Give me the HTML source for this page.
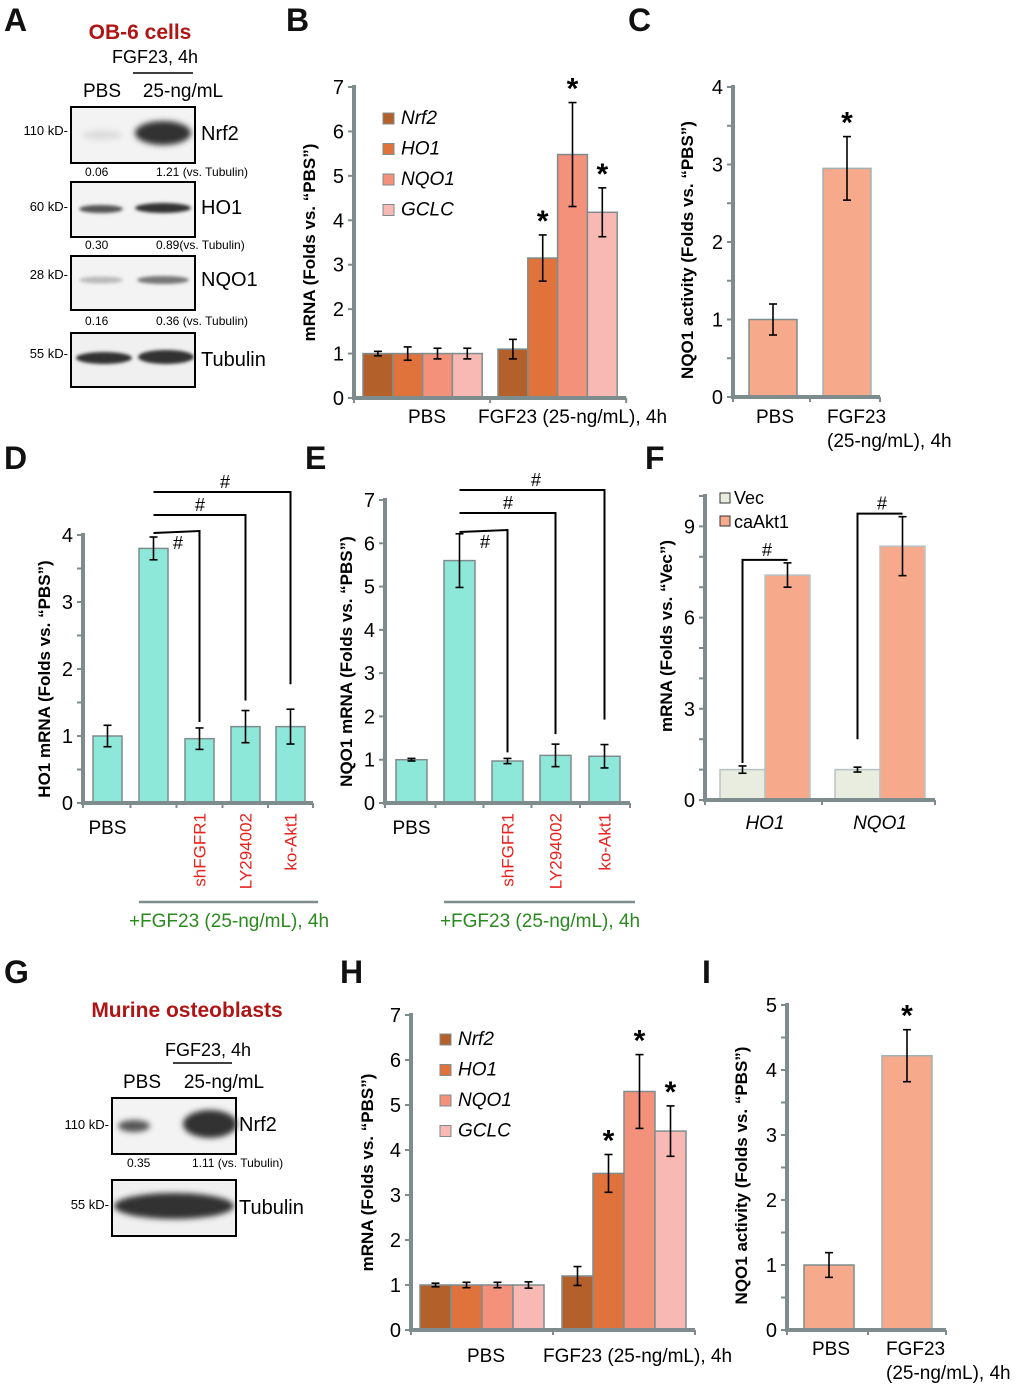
<!DOCTYPE html>
<html><head><meta charset="utf-8"><style>
html,body{margin:0;padding:0;background:#fff}
svg{display:block;font-family:"Liberation Sans",Arial,sans-serif}
</style></head><body>
<svg id="fig" width="1020" height="1390" viewBox="0 0 1020 1390" xmlns="http://www.w3.org/2000/svg">
<defs>
<filter id="blur" x="-20%" y="-50%" width="140%" height="200%"><feGaussianBlur stdDeviation="3"/></filter>
<filter id="blur2" x="-20%" y="-50%" width="140%" height="200%"><feGaussianBlur stdDeviation="1.5"/></filter>
</defs>
<g font-weight="bold" font-size="32" fill="#111">
<text x="4" y="31">A</text>
<text x="286" y="31">B</text>
<text x="628" y="31">C</text>
<text x="4" y="469">D</text>
<text x="305" y="469">E</text>
<text x="645" y="469">F</text>
<text x="4" y="983">G</text>
<text x="340" y="983">H</text>
<text x="702" y="983">I</text>
</g>

<!-- Panel A -->
<g>
<text x="140" y="39" text-anchor="middle" font-weight="bold" font-size="21" fill="#b01515">OB-6 cells</text>
<text x="155" y="63" text-anchor="middle" font-size="18">FGF23, 4h</text>
<line x1="133" y1="73" x2="193" y2="73" stroke="#000" stroke-width="1.5"/>
<text x="102" y="97" text-anchor="middle" font-size="19">PBS</text>
<text x="183" y="97" text-anchor="middle" font-size="19">25-ng/mL</text>
<rect x="71" y="107" width="124" height="56" fill="#f3f3f3" stroke="#000" stroke-width="2"/>
<ellipse cx="102" cy="135" rx="20" ry="5" fill="#ddd" filter="url(#blur)"/>
<ellipse cx="163" cy="133" rx="28" ry="12" fill="#333" filter="url(#blur)"/>
<rect x="71" y="182" width="124" height="55" fill="#f3f3f3" stroke="#000" stroke-width="2"/>
<ellipse cx="101" cy="209" rx="22" ry="4" fill="#555" filter="url(#blur2)"/>
<ellipse cx="163" cy="208" rx="28" ry="5" fill="#333" filter="url(#blur2)"/>
<rect x="71" y="256" width="124" height="54" fill="#f3f3f3" stroke="#000" stroke-width="2"/>
<ellipse cx="101" cy="280" rx="22" ry="3.5" fill="#bbb" filter="url(#blur2)"/>
<ellipse cx="163" cy="280" rx="26" ry="4" fill="#777" filter="url(#blur2)"/>
<rect x="71" y="333" width="124" height="54" fill="#f0f0f0" stroke="#000" stroke-width="2"/>
<ellipse cx="104" cy="358" rx="28" ry="6" fill="#333" filter="url(#blur2)"/>
<ellipse cx="166" cy="357" rx="28" ry="7" fill="#333" filter="url(#blur2)"/>
<g font-size="13" text-anchor="end">
<text x="68" y="135">110 kD-</text><text x="68" y="211">60 kD-</text><text x="68" y="279">28 kD-</text><text x="68" y="358">55 kD-</text>
</g>
<g font-size="20">
<text x="201" y="140">Nrf2</text><text x="201" y="214">HO1</text><text x="201" y="286">NQO1</text><text x="201" y="366">Tubulin</text>
</g>
<g font-size="12">
<text x="85" y="176">0.06</text><text x="156" y="176">1.21 (vs. Tubulin)</text>
<text x="85" y="249">0.30</text><text x="156" y="249">0.89(vs. Tubulin)</text>
<text x="85" y="325">0.16</text><text x="156" y="325">0.36 (vs. Tubulin)</text>
</g>
</g>

<!-- Panel G -->
<g>
<text x="187" y="1017" text-anchor="middle" font-weight="bold" font-size="21" fill="#b01515">Murine osteoblasts</text>
<text x="208" y="1056" text-anchor="middle" font-size="18">FGF23, 4h</text>
<line x1="173" y1="1063" x2="232" y2="1063" stroke="#000" stroke-width="1.5"/>
<text x="142" y="1088" text-anchor="middle" font-size="19">PBS</text>
<text x="224" y="1088" text-anchor="middle" font-size="19">25-ng/mL</text>
<rect x="112" y="1098" width="124" height="56" fill="#f3f3f3" stroke="#000" stroke-width="2"/>
<ellipse cx="134" cy="1126" rx="16" ry="6" fill="#555" filter="url(#blur)"/>
<ellipse cx="210" cy="1124" rx="27" ry="14" fill="#333" filter="url(#blur)"/>
<rect x="112" y="1180" width="124" height="56" fill="#f0f0f0" stroke="#000" stroke-width="2"/>
<ellipse cx="174" cy="1206" rx="60" ry="13" fill="#333" filter="url(#blur)"/>
<g font-size="13" text-anchor="end"><text x="109" y="1129">110 kD-</text><text x="109" y="1209">55 kD-</text></g>
<g font-size="20"><text x="239" y="1131">Nrf2</text><text x="239" y="1214">Tubulin</text></g>
<g font-size="12"><text x="127" y="1167">0.35</text><text x="192" y="1167">1.11 (vs. Tubulin)</text></g>
</g>
<g id="charts"></g>
</svg>
<script>
// ---- Panel B data ----
const bGroups = ["PBS", "FGF23 (25-ng/mL), 4h"];
const bSeries = ["Nrf2", "HO1", "NQO1", "GCLC"];
const bNrf2 = [1.0, 1.1];
const bHO1 = [1.0, 3.15];
const bNQO1 = [1.0, 5.48];
const bGCLC = [1.0, 4.18];
const bErrNrf2 = [0.05, 0.22];
const bErrHO1 = [0.15, 0.52];
const bErrNQO1 = [0.12, 1.17];
const bErrGCLC = [0.12, 0.55];
const bTicks = [0, 1, 2, 3, 4, 5, 6, 7];
// ---- Panel H data ----
const hNrf2 = [1.0, 1.2];
const hHO1 = [1.0, 3.48];
const hNQO1 = [1.0, 5.3];
const hGCLC = [1.0, 4.42];
const hErrNrf2 = [0.04, 0.21];
const hErrHO1 = [0.06, 0.42];
const hErrNQO1 = [0.06, 0.82];
const hErrGCLC = [0.07, 0.56];
const hTicks = [0, 1, 2, 3, 4, 5, 6, 7];
// ---- Panel C data ----
const cCats = ["PBS", "FGF23"];
const cVals = [1.0, 2.95];
const cErr = [0.2, 0.41];
const cTicks = [0, 1, 2, 3, 4];
// ---- Panel I data ----
const iVals = [1.0, 4.22];
const iErr = [0.19, 0.4];
const iTicks = [0, 1, 2, 3, 4, 5];
// ---- Panel D data ----
const dCats = ["PBS", "FGF23", "shFGFR1", "LY294002", "ko-Akt1"];
const dVals = [1.0, 3.8, 0.96, 1.14, 1.14];
const dErr = [0.16, 0.17, 0.16, 0.24, 0.26];
const dTicks = [0, 1, 2, 3, 4];
// ---- Panel E data ----
const eVals = [1.0, 5.6, 0.97, 1.1, 1.08];
const eErr = [0.03, 0.62, 0.06, 0.26, 0.27];
const eTicks = [0, 1, 2, 3, 4, 5, 6, 7];
// ---- Panel F data ----
const fCats = ["HO1", "NQO1"];
const fVec = [1.0, 1.0];
const fCaAkt1 = [7.4, 8.35];
const fErrVec = [0.12, 0.08];
const fErrCa = [0.4, 0.97];
const fTicks = [0, 3, 6, 9];

const NS = "http://www.w3.org/2000/svg";
const root = document.getElementById("charts");
const AX = "#7f8c8d";
function mk(tag, attrs, parent, txt) {
  const e = document.createElementNS(NS, tag);
  for (const k in attrs) e.setAttribute(k, attrs[k]);
  if (txt !== undefined) e.textContent = txt;
  (parent || root).appendChild(e);
  return e;
}
function axisY(g, x, y0, yTop, max, ticks, minor, fs) {
  const sy = v => y0 - v * (y0 - yTop) / max;
  mk("line", {x1: x, y1: y0 + 2, x2: x, y2: sy(max) - 2, stroke: AX, "stroke-width": 4}, g);
  for (let v = 0; v <= max + 1e-9; v += minor) {
    mk("line", {x1: x - 6, y1: sy(v), x2: x, y2: sy(v), stroke: AX, "stroke-width": 2}, g);
  }
  ticks.forEach(t => mk("text", {x: x - 10, y: sy(t) + 7, "text-anchor": "end", "font-size": fs || 20}, g, String(t)));
  return sy;
}
function axisX(g, x1, x2, y0, seps) {
  mk("line", {x1: x1 - 2, y1: y0, x2: x2, y2: y0, stroke: AX, "stroke-width": 4}, g);
  seps.forEach(sx => mk("line", {x1: sx, y1: y0, x2: sx, y2: y0 + 5, stroke: AX, "stroke-width": 2}, g));
}
function bar(g, x, w, y0, yv, fill, stroke) {
  return mk("rect", {x: x, y: Math.min(yv, y0), width: w, height: Math.abs(y0 - yv), fill: fill, stroke: stroke || AX, "stroke-width": 1.5}, g);
}
function err(g, cx, sy, v, e) {
  const a = sy(v - e), b = sy(v + e);
  mk("line", {x1: cx, y1: a, x2: cx, y2: b, stroke: "#000", "stroke-width": 1.6}, g);
  mk("line", {x1: cx - 4, y1: a, x2: cx + 4, y2: a, stroke: "#000", "stroke-width": 1.6}, g);
  mk("line", {x1: cx - 4, y1: b, x2: cx + 4, y2: b, stroke: "#000", "stroke-width": 1.6}, g);
  return b;
}
function ylabel(g, x, y, txt, fs) {
  mk("text", {x: x, y: y, transform: `rotate(-90 ${x} ${y})`, "text-anchor": "middle", "font-weight": "bold", "font-size": fs || 17}, g, txt);
}
function star(g, x, y) { mk("text", {x: x, y: y + 14, "text-anchor": "middle", "font-size": 30, "font-weight": "bold"}, g, "*"); }

const gColors = ["#b3602a", "#e0733c", "#f4917a", "#f8b8b4"];

function grouped(name, ax, y0, yTop, vals, errs, ticks, groupStart, bw, pbsX, fgfX, legendY, ylab, yLabX, xLabY) {
  const g = mk("g", {}, root);
  
  
  const sy = axisY(g, ax, y0, yTop, 7, ticks, 1, 20);
  ylabel(g, yLabX, (y0 + yTop) / 2, ylab, 17);
  for (let gi = 0; gi < 2; gi++) {
    vals.forEach((series, si) => {
      const x = groupStart[gi] + si * bw;
      const r = bar(g, x, bw, y0, sy(series[gi]), gColors[si]);
      
      
      const top = err(g, x + bw / 2, sy, series[gi], errs[si][gi]);
      if (gi === 1 && si > 0) star(g, x + bw / 2, top - 18);
    });
  }
  const xEnd = groupStart[1] + 4 * bw + 9;
  axisX(g, ax, xEnd, y0, [ax, (groupStart[0] + 4 * bw + groupStart[1]) / 2, xEnd]);
  mk("text", {x: pbsX, y: xLabY, "text-anchor": "middle", "font-size": 19}, g, bGroups[0]);
  mk("text", {x: fgfX, y: xLabY, "font-size": 19}, g, bGroups[1]);
  bSeries.forEach((s, i) => {
    const lg = mk("g", {}, g);
    
    
    mk("rect", {x: ax + 29, y: legendY + i * 30.5 - 11, width: 11, height: 11, fill: gColors[i], stroke: AX, "stroke-width": 1}, lg);
    mk("text", {x: ax + 47, y: legendY + i * 30.5, "font-size": 19, "font-style": "italic"}, lg, s);
  });
}
grouped("panel-b-mrna-chart", 354, 398, 87, [bNrf2, bHO1, bNQO1, bGCLC], [bErrNrf2, bErrHO1, bErrNQO1, bErrGCLC], bTicks, [363, 498], 29.8, 427, 478, 124, 'mRNA (Folds vs. “PBS”)', 315, 423);
grouped("panel-h-mrna-chart", 411, 1330, 1015, [hNrf2, hHO1, hNQO1, hGCLC], [hErrNrf2, hErrHO1, hErrNQO1, hErrGCLC], hTicks, [420, 562], 31, 486, 543, 1045, 'mRNA (Folds vs. “PBS”)', 373, 1362);

function twoBar(name, ax, y0, yTop, max, vals, errs, ticks, xs, bw, xEnd, ylab, yLabX, xLabY) {
  const g = mk("g", {}, root);
  
  
  const sy = axisY(g, ax, y0, yTop, max, ticks, 0.5, 20);
  ylabel(g, yLabX, (y0 + yTop) / 2 + 8, ylab, 17);
  vals.forEach((v, i) => {
    const r = bar(g, xs[i], bw, y0, sy(v), "#f7a98b", i ? "#9fb3b3" : "#7f8c8d");
    
    
    const top = err(g, xs[i] + bw / 2, sy, v, errs[i]);
    if (i === 1) star(g, xs[i] + bw / 2, top - 18);
  });
  axisX(g, ax, xEnd, y0, [ax, (xs[0] + bw + xs[1]) / 2, xEnd]);
  mk("text", {x: xs[0] + bw / 2 + 2, y: xLabY, "text-anchor": "middle", "font-size": 19}, g, "PBS");
  mk("text", {x: xs[1] + 4, y: xLabY, "font-size": 19}, g, "FGF23");
  mk("text", {x: xs[1] + 4, y: xLabY + 24, "font-size": 19}, g, "(25-ng/mL), 4h");
}
twoBar("panel-c-nqo1-activity", 733, 397, 87, 4, cVals, cErr, cTicks, [749, 823], 48, 880, 'NQO1 activity  (Folds vs. “PBS”)', 693, 423);
twoBar("panel-i-nqo1-activity", 787, 1330, 1005, 5, iVals, iErr, iTicks, [804, 882], 50, 946, 'NQO1 activity (Folds vs. “PBS”)', 747, 1355);

function fiveBar(name, ax, y0, yTop, max, vals, errs, ticks, xs, bw, xEnd, ylab, yLabX, brY, hashX) {
  const g = mk("g", {}, root);
  
  
  const sy = axisY(g, ax, y0, yTop, max, ticks, max > 5 ? 1 : 0.5, 20);
  ylabel(g, yLabX, (y0 + yTop) / 2 + 10, ylab, 17);
  const tops = [];
  vals.forEach((v, i) => {
    const r = bar(g, xs[i], bw, y0, sy(v), "#8ee8da");
    
    
    tops.push(err(g, xs[i] + bw / 2, sy, v, errs[i]));
  });
  const seps = [ax];
  for (let i = 0; i < 4; i++) seps.push((xs[i] + bw + xs[i + 1]) / 2);
  seps.push(xEnd);
  axisX(g, ax, xEnd, y0, seps);
  const c1 = xs[1] + bw / 2;
  for (let k = 0; k < 3; k++) {
    const cx = xs[k + 2] + bw / 2;
    const yb = brY[k];
    const yEnd = k === 0 ? tops[2] - 6 : tops[k + 2] - 10 - (k === 2 ? 15 : 0);
    mk("polyline", {points: `${c1},${yb + (k === 0 ? 2 : 0)} ${cx},${yb} ${cx},${yEnd}`, fill: "none", stroke: "#000", "stroke-width": 2}, g);
    mk("text", {x: hashX[k], y: yb - (k === 0 ? -18 : 4), "text-anchor": "middle", "font-size": 18}, g, "#");
  }
  mk("text", {x: xs[0] + bw / 2, y: 834, "text-anchor": "middle", "font-size": 19}, g, "PBS");
  for (let i = 2; i < 5; i++) {
    const cx = xs[i] + bw / 2 + 6, ty = 813;
    mk("text", {x: cx, y: ty, transform: `rotate(-90 ${cx} ${ty})`, "text-anchor": "end", "font-size": 17, fill: "#e8221e"}, g, dCats[i]);
  }
  mk("line", {x1: xs[1], y1: 902, x2: xEnd + 5, y2: 902, stroke: AX, "stroke-width": 2.5}, g);
  mk("text", {x: (xs[1] + xEnd) / 2 + 3, y: 927, "text-anchor": "middle", "font-size": 19, fill: "#2a8a1e"}, g, "+FGF23 (25-ng/mL), 4h");
}
fiveBar("panel-d-ho1-mrna", 83, 803, 535, 4, dVals, dErr, dTicks, [93, 139, 185, 231, 276], 29, 313, 'HO1 mRNA (Folds vs. “PBS”)', 50, [531, 515, 492], [178, 200, 225]);
fiveBar("panel-e-nqo1-mrna", 385, 803, 500, 7, eVals, eErr, eTicks, [396, 444, 492, 540, 589], 31, 630, 'NQO1 mRNA (Folds vs. “PBS”)', 352, [530, 513, 490], [485, 508, 536]);

(function () {
  const g = mk("g", {}, root);
  
  
  const ax = 705, y0 = 800, yTop = 496, max = 10;
  const sy = axisY(g, ax, y0, yTop, max, fTicks, 1, 20);
  ylabel(g, 672, 636, 'mRNA (Folds vs. “Vec”)', 17);
  const xs = [720, 835], bw = 45;
  fCats.forEach((c, i) => {
    const r1 = bar(g, xs[i], bw, y0, sy(fVec[i]), "#e8eddf", "#b8c4c4");
    
    
    const r2 = bar(g, xs[i] + bw, bw, y0, sy(fCaAkt1[i]), "#f7a98b", "#b8c4c4");
    
    
    const t1 = err(g, xs[i] + bw / 2, sy, fVec[i], fErrVec[i]);
    const t2 = err(g, xs[i] + bw * 1.5, sy, fCaAkt1[i], fErrCa[i]);
    const by = t2 - 3;
    const vEnd = i === 0 ? t1 - 3 : sy(fVec[i] + 1);
    mk("polyline", {points: `${xs[i] + bw / 2},${vEnd} ${xs[i] + bw / 2},${by} ${xs[i] + bw * 1.5},${by}`, fill: "none", stroke: "#000", "stroke-width": 2}, g);
    mk("text", {x: xs[i] + bw + 2, y: by - 4, "text-anchor": "middle", "font-size": 18}, g, "#");
    mk("text", {x: xs[i] + bw, y: 829, "text-anchor": "middle", "font-size": 19, "font-style": "italic"}, g, c);
  });
  axisX(g, ax, 935, y0, [ax, 822, 935]);
  const l1 = mk("g", {}, g);
  
  
  mk("rect", {x: 720, y: 493, width: 10, height: 10, fill: "#e8eddf", stroke: "#333", "stroke-width": 1}, l1);
  mk("text", {x: 734, y: 504, "font-size": 18}, l1, "Vec");
  const l2 = mk("g", {}, g);
  
  
  mk("rect", {x: 720, y: 516, width: 10, height: 10, fill: "#f7a98b", stroke: "#333", "stroke-width": 1}, l2);
  mk("text", {x: 734, y: 528, "font-size": 18}, l2, "caAkt1");
})();
</script>
</body></html>
